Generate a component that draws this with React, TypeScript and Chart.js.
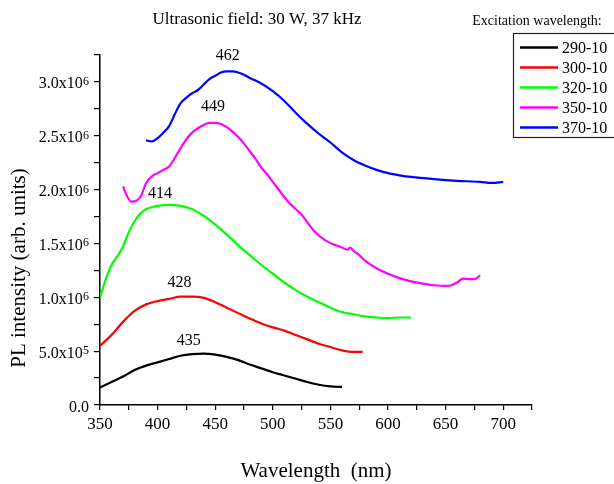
import { useEffect, useRef } from 'react';
import { Chart, registerables } from 'chart.js';

Chart.register(...registerables);

const FONT = '"Liberation Serif", "Times New Roman", serif';

const chartTitle = 'Ultrasonic field: 30 W, 37 kHz';
const legendTitle = 'Excitation wavelength:';
const xAxisTitle = 'Wavelength  (nm)';
const yAxisTitle = 'PL intensity (arb. units)';

const seriesLabels = ['290-10', '300-10', '320-10', '350-10', '370-10'];
const seriesColors = ['#000000', '#ff0000', '#00ff00', '#ff00ff', '#0000ff'];

// Intensities are in units of 10^6 (arb. units)
const wl290 = [350, 360, 370, 380, 390, 400, 410, 420, 430, 440, 450, 460, 470, 480, 490, 500, 510, 520, 530, 540, 550, 560];
const pl290 = [0.16, 0.21, 0.26, 0.32, 0.36, 0.39, 0.42, 0.45, 0.465, 0.47, 0.46, 0.44, 0.41, 0.37, 0.335, 0.30, 0.27, 0.24, 0.21, 0.185, 0.17, 0.165];

const wl300 = [350, 360, 370, 380, 390, 400, 410, 420, 430, 440, 450, 460, 470, 480, 490, 500, 510, 520, 530, 540, 550, 560, 570, 578];
const pl300 = [0.54, 0.64, 0.76, 0.86, 0.92, 0.95, 0.97, 0.99, 0.99, 0.98, 0.94, 0.89, 0.84, 0.79, 0.745, 0.71, 0.68, 0.64, 0.60, 0.56, 0.53, 0.50, 0.485, 0.485];

const wl320 = [350, 355, 360, 365, 370, 375, 380, 385, 390, 400, 410, 420, 430, 440, 450, 460, 470, 480, 490, 500, 510, 520, 530, 540, 550, 560, 570, 580, 590, 600, 610, 620];
const pl320 = [0.98, 1.15, 1.28, 1.36, 1.45, 1.58, 1.68, 1.75, 1.79, 1.82, 1.83, 1.82, 1.79, 1.73, 1.65, 1.56, 1.46, 1.37, 1.28, 1.20, 1.12, 1.05, 0.99, 0.94, 0.89, 0.85, 0.83, 0.81, 0.80, 0.795, 0.80, 0.80];

const wl350 = [370, 373, 377, 382, 386, 390, 395, 400, 405, 410, 415, 420, 425, 430, 435, 440, 445, 450, 455, 460, 465, 470, 475, 480, 485, 490, 495, 500, 505, 510, 515, 520, 525, 530, 535, 540, 545, 550, 555, 560, 565, 567, 570, 575, 580, 590, 600, 610, 620, 630, 640, 650, 655, 660, 665, 670, 675, 680];
const pl350 = [2.00, 1.92, 1.86, 1.87, 1.92, 2.03, 2.09, 2.12, 2.15, 2.18, 2.26, 2.35, 2.43, 2.49, 2.53, 2.56, 2.58, 2.58, 2.57, 2.54, 2.50, 2.45, 2.39, 2.32, 2.25, 2.17, 2.11, 2.04, 1.97, 1.90, 1.84, 1.79, 1.74, 1.67, 1.60, 1.55, 1.51, 1.48, 1.46, 1.44, 1.42, 1.44, 1.41, 1.37, 1.32, 1.25, 1.20, 1.16, 1.13, 1.11, 1.095, 1.09, 1.095, 1.12, 1.155, 1.15, 1.15, 1.185];

const wl370 = [390, 395, 400, 405, 410, 415, 420, 425, 430, 435, 440, 445, 450, 455, 460, 465, 470, 475, 480, 490, 500, 510, 520, 530, 540, 550, 560, 570, 580, 590, 600, 610, 620, 640, 660, 680, 690, 700];
const pl370 = [2.42, 2.41, 2.44, 2.49, 2.55, 2.66, 2.76, 2.81, 2.85, 2.88, 2.93, 2.98, 3.01, 3.04, 3.05, 3.05, 3.04, 3.02, 2.99, 2.94, 2.87, 2.78, 2.67, 2.57, 2.48, 2.40, 2.31, 2.24, 2.19, 2.15, 2.12, 2.10, 2.085, 2.065, 2.05, 2.04, 2.03, 2.04];

const seriesWl = [wl290, wl300, wl320, wl350, wl370];
const seriesPl = [pl290, pl300, pl320, pl350, pl370];

// Peak annotations (text, wavelength of label, intensity of label in 10^6)
const peakTexts = ['435', '428', '414', '449', '462'];
const peakTextWl = [427, 419, 402, 448, 461];
const peakTextPl = [0.59, 1.12, 1.93, 2.725, 3.195];

const xMin = 350;
const xMax = 725;
const xStep = 25;
const yMax = 3.2;
const yStep = 0.25;

// returns [mantissa text, exponent text]
function yTickParts(v: number): [string, string] {
  const m = Math.round(v / 1e5);
  if (m === 0) return ['0.0', ''];
  if (m % 5 !== 0) return ['', ''];
  if (m < 10) return [`${m.toFixed(1)}x10`, '5'];
  return [`${(m / 10).toFixed(1)}x10`, '6'];
}

const decorPlugin = {
  id: 'decor',
  afterDraw(chart: any) {
    const ctx = chart.ctx as CanvasRenderingContext2D;
    const xs = chart.scales.x;
    const ys = chart.scales.y;
    ctx.save();
    ctx.fillStyle = '#000';

    // y tick labels with superscripts
    const rightEdge = 89;
    ys.ticks.forEach((t: any) => {
      const [base, exp] = yTickParts(t.value);
      if (!base) return;
      const py = ys.getPixelForValue(t.value);
      ctx.textAlign = 'right';
      ctx.textBaseline = 'alphabetic';
      let right = rightEdge;
      if (exp) {
        ctx.font = `12px ${FONT}`;
        ctx.fillText(exp, right, py + 3);
        right -= ctx.measureText(exp).width + 0.3;
      }
      ctx.font = `16px ${FONT}`;
      ctx.fillText(base, right, py + 6.5);
    });

    ctx.textAlign = 'center';
    ctx.textBaseline = 'middle';

    // titles
    ctx.font = `17px ${FONT}`;
    ctx.fillText(chartTitle, 257, 20);
    ctx.font = `14px ${FONT}`;
    ctx.fillText(legendTitle, 537, 21);

    // axis titles
    ctx.font = `21px ${FONT}`;
    ctx.fillText(xAxisTitle, 316, 471);
    ctx.save();
    ctx.translate(19, 268);
    ctx.rotate(-Math.PI / 2);
    ctx.fillText(yAxisTitle, 0, 0);
    ctx.restore();

    // peak labels
    ctx.font = `16px ${FONT}`;
    peakTexts.forEach((t, i) => {
      ctx.fillText(t, xs.getPixelForValue(peakTextWl[i]), ys.getPixelForValue(peakTextPl[i] * 1e6));
    });

    // legend
    const bx = 513.5;
    const by = 33.5;
    const bw = 110;
    const bh = 104;
    ctx.lineWidth = 1.2;
    ctx.strokeStyle = '#222';
    ctx.strokeRect(bx, by, bw, bh);
    ctx.font = `16px ${FONT}`;
    ctx.textAlign = 'left';
    seriesLabels.forEach((lab, i) => {
      const yy = 47.5 + i * 20;
      ctx.strokeStyle = seriesColors[i];
      ctx.lineWidth = 2.5;
      ctx.beginPath();
      ctx.moveTo(520, yy);
      ctx.lineTo(558, yy);
      ctx.stroke();
      ctx.fillStyle = '#000';
      ctx.fillText(lab, 562, yy + 1);
    });
    ctx.restore();
  },
};

export default function App() {
  const ref = useRef<HTMLCanvasElement | null>(null);

  useEffect(() => {
    if (!ref.current) return;
    const datasets = seriesLabels.map((lab, i) => ({
      label: lab,
      data: seriesWl[i].map((w, j) => ({ x: w, y: seriesPl[i][j] * 1e6 })),
      borderColor: seriesColors[i],
      backgroundColor: seriesColors[i],
      borderWidth: 2.2,
      pointRadius: 0,
      cubicInterpolationMode: 'monotone' as const,
      fill: false,
    }));

    const chart = new Chart(ref.current, {
      type: 'line',
      data: { datasets },
      plugins: [decorPlugin],
      options: {
        animation: false,
        responsive: false,
        maintainAspectRatio: false,
        layout: { padding: { top: 55, right: 82, bottom: 0, left: 0 } },
        plugins: {
          legend: { display: false },
          tooltip: { enabled: false },
          title: { display: false },
        },
        scales: {
          x: {
            type: 'linear',
            min: xMin,
            max: xMax,
            ticks: {
              stepSize: xStep,
              autoSkip: false,
              maxRotation: 0,
              color: '#000',
              font: { family: FONT, size: 17 },
              padding: 4,
              callback: (v: any) => (Number(v) % 50 === 0 ? String(v) : ''),
            },
            grid: {
              drawOnChartArea: false,
              drawTicks: true,
              tickLength: 5,
              color: '#000',
              lineWidth: 1.2,
            },
            border: { color: '#000', width: 1.5 },
            afterFit: (s: any) => {
              s.height = 79;
            },
          },
          y: {
            type: 'linear',
            min: 0,
            max: yMax * 1e6,
            ticks: {
              stepSize: yStep * 1e6,
              includeBounds: false,
              autoSkip: false,
              color: '#000',
              font: { family: FONT, size: 16 },
              padding: 2,
              callback: () => '',
            },
            grid: {
              drawOnChartArea: false,
              drawTicks: true,
              tickLength: 6,
              color: '#000',
              lineWidth: 1.2,
            },
            border: { color: '#000', width: 1.5 },
            afterFit: (s: any) => {
              s.width = 100;
            },
          },
        },
      },
    });
    return () => chart.destroy();
  }, []);

  return (
    <div style={{ position: 'fixed', left: 0, top: 0, width: 614, height: 484, background: '#fff' }}>
      <canvas ref={ref} width={614} height={484} style={{ width: 614, height: 484, display: 'block' }} />
    </div>
  );
}
